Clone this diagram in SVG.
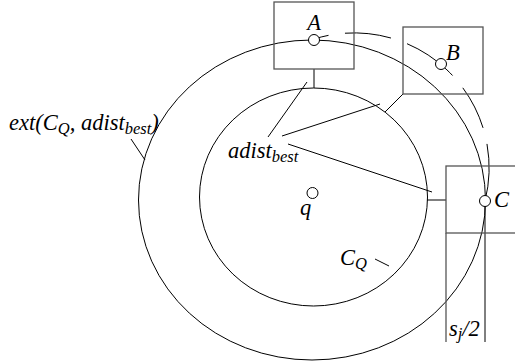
<svg xmlns="http://www.w3.org/2000/svg" width="515" height="364" viewBox="0 0 515 364">
<style>
.box{fill:none;stroke:#555;stroke-width:1.3}
.ln{fill:none;stroke:#000;stroke-width:1}
.pt{fill:#fff;stroke:#000;stroke-width:1}
.s{font-size:16.5px}
</style>
<rect width="515" height="364" fill="#fff"/>
<g id="circles">
<ellipse id="outer" class="ln" cx="312" cy="200" rx="173.5" ry="160"/>
<ellipse id="inner" class="ln" cx="313.5" cy="197" rx="114" ry="109"/>
</g>
<g id="connectors">
<path class="ln" d="M314 39 A135 135 0 0 1 485 201" stroke-dasharray="15 16.6 46.4 17 56 16 45 16.5 80"/>
<line class="ln" x1="314" y1="69" x2="314" y2="88"/>
<line class="ln" x1="403" y1="94" x2="385" y2="112"/>
<line class="ln" x1="446" y1="200" x2="427" y2="200"/>
<line class="ln" x1="131" y1="139" x2="145" y2="160"/>
<line class="ln" x1="307" y1="82" x2="268" y2="137"/>
<line class="ln" x1="282" y1="136" x2="380" y2="104"/>
<line class="ln" x1="288" y1="144" x2="432" y2="192"/>
<line class="ln" x1="375" y1="259" x2="389" y2="266"/>
<line x1="446" y1="233" x2="446" y2="342" stroke="#555" stroke-width="1.3"/>
<line class="ln" x1="485" y1="201" x2="485" y2="342"/>
</g>
<g font-family="'Liberation Serif', 'Times New Roman', serif" font-style="italic" font-size="22.5" fill="#000">
<g id="nodeA">
<rect class="box" x="274" y="2" width="80" height="67"/>
<circle class="pt" cx="314" cy="40" r="5.5"/>
<text x="314" y="29.5" text-anchor="middle">A</text>
</g>
<g id="nodeB">
<rect class="box" x="403" y="27" width="80" height="67"/>
<circle class="pt" cx="441" cy="64" r="5.5"/>
<text x="446" y="60">B</text>
</g>
<g id="nodeC">
<rect class="box" x="446" y="166" width="80" height="67"/>
<circle class="pt" cx="485" cy="201" r="5.5"/>
<text x="494" y="207">C</text>
</g>
<g id="nodeQ">
<circle class="pt" cx="312.5" cy="193" r="5.5"/>
<text x="300" y="215">q</text>
</g>
<g id="labels">
<text x="228" y="158">adist<tspan class="s" dy="4">best</tspan></text>
<text x="340" y="265">C<tspan class="s" dy="4">Q</tspan></text>
<text x="9" y="130">ext(C<tspan class="s" dy="4">Q</tspan><tspan dy="-4">, adist</tspan><tspan class="s" dy="4">best</tspan><tspan dy="-4">)</tspan></text>
<text x="449" y="336">s<tspan class="s" dy="3">j</tspan><tspan dy="-3">/2</tspan></text>
</g>
</g>
</svg>
